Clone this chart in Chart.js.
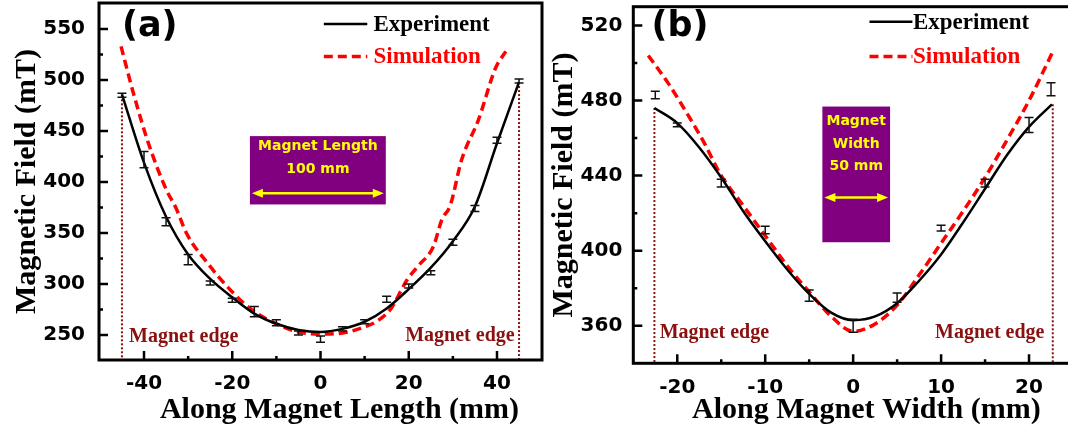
<!DOCTYPE html>
<html>
<head>
<meta charset="utf-8">
<script src="https://cdn.jsdelivr.net/npm/chart.js@4.4.0/dist/chart.umd.min.js"></script>
<style>
  html, body { margin: 0; padding: 0; background: #fff; overflow: hidden; }
  #wrap { position: relative; width: 1068px; height: 431px; overflow: hidden; }
  #chartA { position: absolute; left: 0; top: 0; }
  #chartB { position: absolute; left: 545px; top: 0; }
</style>
</head>
<body>
<div id="wrap">
  <canvas id="chartA" width="548" height="431"></canvas>
  <canvas id="chartB" width="545" height="431"></canvas>
</div>
<script>
/* Panel (a): along magnet length. */
const expXA = [-45, -40, -35, -30, -25, -20, -15, -10, -5, 0, 5, 10, 15, 20, 25, 30, 35, 40, 45]
const expYA = [485, 422, 361, 324, 301, 284, 273, 262, 252, 246, 256, 263, 285, 298, 311, 341, 374, 441, 499]
const expErrA = [2, 8, 4, 5, 2, 2, 5, 3, 2, 3, 2, 2, 3, 2, 2, 3, 3, 3, 2]
const fitXA = [-45, -40, -35, -30, -25, -20, -15, -10, -5, 0, 5, 10, 15, 20, 25, 30, 35, 40, 45]
const fitYA = [486, 419, 366, 329, 305, 287, 271, 261, 255, 253, 256, 263, 276, 295, 316, 342, 376, 438, 498]
const simXA = [-45.2, -42.4, -39, -35, -32.7, -30.4, -25.7, -19.5, -15, -10, -5, 0, 5, 10, 13, 16, 19.6, 22, 25.6, 27.5, 29.4, 32, 35.8, 39.7, 42]
const simYA = [533, 487, 438, 393, 374, 350, 321, 290, 273, 261, 253, 251, 252, 258, 264, 276, 304, 317, 337, 363, 377, 422, 461, 512, 528]
const edgeXA = [-45, 45]
const edgeTopA = [485, 498]
const xMajorA = [-40, -20, 0, 20, 40]
const xMinorA = [-30, -10, 10, 30]
const yMajorA = [250, 300, 350, 400, 450, 500, 550]
const yMinorA = [275, 325, 375, 425, 475, 525]

/* Panel (b): along magnet width. */
const expXB = [-22.5, -20, -15, -10, -5, 0, 5, 10, 15, 20, 22.5]
const expYB = [483, 467, 436, 411, 376, 360, 375, 412, 436, 467, 486]
const expErrB = [2, 1, 2, 2, 3, 3.5, 2.5, 1.5, 2, 4, 3.5]
const fitXB = [-22.6, -20, -17.5, -15, -12.5, -10, -7.5, -5, -2.5, 0, 2.5, 5, 7.5, 10, 12.5, 15, 17.5, 20, 22.6]
const fitYB = [476, 468, 455, 439, 421, 405, 390, 377, 367, 363, 365, 372, 384, 398, 415, 433, 451, 466, 478]
const simXB = [-23.3, -21, -19, -17, -15, -12.5, -10, -7.5, -5, -2.5, 0, 2.5, 5, 7.5, 10, 12.5, 15, 17.5, 20, 22.8]
const simYB = [504, 489, 474, 458, 440, 424, 408, 392, 378, 365, 357, 361, 371, 387, 404, 421, 439, 459, 480, 507]
const edgeXB = [-22.6, 22.7]
const edgeTopB = [476, 478]
const xMajorB = [-20, -10, 0, 10, 20]
const xMinorB = [-15, -5, 5, 15]
const yMajorB = [360, 400, 440, 480, 520]
const yMinorB = [380, 420, 460, 500]

const serif = "'Liberation Serif', 'Times New Roman', serif"
const sans = "'DejaVu Sans', sans-serif"
const edgeColor = "#8b1010"

const toPoints = (xs, ys) => xs.map((x, i) => ({ x, y: ys[i] }))

/* Draws frame, inward ticks, error bars, legend and notes. */
const panelPlugin = {
  id: "panel",
  afterDatasetsDraw(chart, args, o) {
    const ctx = chart.ctx
    const xs = chart.scales.x
    const ys = chart.scales.y
    const area = chart.chartArea
    const px = v => xs.getPixelForValue(v)
    const py = v => ys.getPixelForValue(v)
    ctx.save()

    /* Error bars. */
    ctx.strokeStyle = "#111"
    ctx.lineWidth = 1.5
    o.errX.forEach((x, i) => {
      const cx = px(x)
      const top = py(o.errY[i] + o.err[i])
      const bot = py(o.errY[i] - o.err[i])
      ctx.beginPath()
      ctx.moveTo(cx, top); ctx.lineTo(cx, bot)
      ctx.moveTo(cx - 4.5, top); ctx.lineTo(cx + 4.5, top)
      ctx.moveTo(cx - 4.5, bot); ctx.lineTo(cx + 4.5, bot)
      ctx.stroke()
    })

    /* Frame and inward ticks. */
    ctx.strokeStyle = "#000"
    ctx.lineWidth = 3
    ctx.strokeRect(area.left, area.top, area.right - area.left, area.bottom - area.top)
    ctx.lineWidth = 2.5
    ctx.beginPath()
    o.xMajor.forEach(v => { ctx.moveTo(px(v), area.bottom); ctx.lineTo(px(v), area.bottom - 9) })
    o.xMinor.forEach(v => { ctx.moveTo(px(v), area.bottom); ctx.lineTo(px(v), area.bottom - 4) })
    o.yMajor.forEach(v => { ctx.moveTo(area.left, py(v)); ctx.lineTo(area.left + 9, py(v)) })
    o.yMinor.forEach(v => { ctx.moveTo(area.left, py(v)); ctx.lineTo(area.left + 4, py(v)) })
    ctx.stroke()

    /* Panel letter. */
    ctx.fillStyle = "#000"
    ctx.font = "bold 35px " + sans
    ctx.textAlign = "center"
    ctx.textBaseline = "middle"
    ctx.fillText(o.letter.text, px(o.letter.x), py(o.letter.y))

    /* Legend from the line datasets. */
    ctx.font = "bold 23px " + serif
    ctx.textAlign = "left"
    o.legend.rows.forEach(row => {
      const ds = chart.data.datasets[row.dataset]
      const y = py(row.y)
      ctx.strokeStyle = ds.borderColor
      ctx.lineWidth = ds.borderWidth
      ctx.setLineDash(ds.borderDash || [])
      ctx.beginPath()
      ctx.moveTo(px(o.legend.x0), y)
      ctx.lineTo(px(o.legend.x1), y)
      ctx.stroke()
      ctx.setLineDash([])
      ctx.fillStyle = ds.borderColor
      ctx.fillText(ds.label, px(o.legend.text), y + 1)
    })

    /* Magnet box. */
    const b = o.box
    ctx.fillStyle = "#800080"
    ctx.fillRect(px(b.x0), py(b.y1), px(b.x1) - px(b.x0), py(b.y0) - py(b.y1))
    ctx.fillStyle = "#ffff00"
    ctx.font = "bold 14px " + sans
    ctx.textAlign = "center"
    const mid = (px(b.x0) + px(b.x1)) / 2
    b.lines.forEach(l => ctx.fillText(l.text, mid, py(l.y)))
    const ay = py(b.arrowY)
    const ax0 = px(b.x0) + 2
    const ax1 = px(b.x1) - 2
    ctx.strokeStyle = "#ffff00"
    ctx.lineWidth = 2.5
    ctx.beginPath()
    ctx.moveTo(ax0 + 6, ay); ctx.lineTo(ax1 - 6, ay)
    ctx.stroke()
    ctx.beginPath()
    ctx.moveTo(ax0, ay); ctx.lineTo(ax0 + 11, ay - 4.5); ctx.lineTo(ax0 + 11, ay + 4.5); ctx.closePath()
    ctx.moveTo(ax1, ay); ctx.lineTo(ax1 - 11, ay - 4.5); ctx.lineTo(ax1 - 11, ay + 4.5); ctx.closePath()
    ctx.fill()

    /* Magnet edge notes. */
    ctx.fillStyle = edgeColor
    ctx.font = "bold 20px " + serif
    o.edges.forEach(e => {
      ctx.textAlign = e.align
      ctx.fillText("Magnet edge", px(e.x), py(e.y))
    })

    /* X axis title. */
    ctx.fillStyle = "#000"
    ctx.font = "bold 30px " + serif
    ctx.textAlign = "center"
    ctx.fillText(o.xTitle.text, px(o.xTitle.x), area.bottom + o.xTitle.dy)
    ctx.restore()
  }
}

const makeChart = (id, p) => {
  const datasets = [{
    label: "Experiment",
    data: toPoints(p.fitX, p.fitY),
    borderColor: "#000",
    borderWidth: 2.5,
    cubicInterpolationMode: "monotone"
  }, {
    label: "Simulation",
    data: toPoints(p.simX, p.simY),
    borderColor: "#ff0000",
    borderWidth: 3.5,
    borderDash: [9, 5],
    cubicInterpolationMode: "monotone"
  }]
  p.edgeX.forEach((x, i) => {
    datasets.push({
      label: "edge",
      data: [{ x, y: p.edgeTop[i] }, { x, y: p.yMin }],
      borderColor: edgeColor,
      borderWidth: 2,
      borderDash: [2, 2]
    })
  })
  datasets.forEach(ds => { ds.showLine = true; ds.pointRadius = 0; ds.fill = false })

  return new Chart(document.getElementById(id), {
    type: "scatter",
    data: { datasets },
    plugins: [panelPlugin],
    options: {
      responsive: false,
      animation: false,
      layout: { padding: p.padding },
      plugins: {
        legend: { display: false },
        tooltip: { enabled: false },
        panel: p.notes
      },
      scales: {
        x: {
          type: "linear",
          min: p.xMin,
          max: p.xMax,
          grid: { display: false, drawTicks: false },
          border: { display: false },
          afterBuildTicks: s => { s.ticks = p.xMajor.map(v => ({ value: v })) },
          afterFit: s => { s.height = p.xHeight; s.paddingLeft = 0; s.paddingRight = 0 },
          ticks: { color: "#000", padding: 12, font: { family: sans, size: 20, weight: "bold" } }
        },
        y: {
          min: p.yMin,
          max: p.yMax,
          grid: { display: false, drawTicks: false },
          border: { display: false },
          afterBuildTicks: s => { s.ticks = p.yMajor.map(v => ({ value: v })) },
          afterFit: s => { s.width = p.yWidth; s.paddingTop = 0; s.paddingBottom = 0 },
          ticks: { color: "#000", padding: p.yPad, font: { family: sans, size: 20, weight: "bold" } },
          title: {
            display: true,
            text: "Magnetic Field (mT)",
            color: "#000",
            padding: { top: p.yTitlePad, bottom: 0 },
            font: { family: serif, size: 30, weight: "bold", lineHeight: 1.2 }
          }
        }
      }
    }
  })
}

makeChart("chartA", {
  fitX: fitXA, fitY: fitYA, simX: simXA, simY: simYA,
  edgeX: edgeXA, edgeTop: edgeTopA,
  xMin: -50.2, xMax: 50.2, yMin: 225.5, yMax: 575.5,
  xMajor: xMajorA, yMajor: yMajorA,
  padding: { left: 0, top: 3, right: 6, bottom: 0 },
  xHeight: 71, yWidth: 99, yPad: 14, yTitlePad: 9,
  notes: {
    errX: expXA, errY: expYA, err: expErrA,
    xMajor: xMajorA, xMinor: xMinorA, yMajor: yMajorA, yMinor: yMinorA,
    letter: { text: "(a)", x: -38.7, y: 552 },
    legend: { x0: 0.75, x1: 10.6, text: 12, rows: [{ dataset: 0, y: 555 }, { dataset: 1, y: 523 }] },
    box: {
      x0: -16, x1: 14.8, y0: 378, y1: 445, arrowY: 389,
      lines: [{ text: "Magnet Length", y: 435 }, { text: "100 mm", y: 412 }]
    },
    edges: [{ x: -43.4, y: 248, align: "left" }, { x: 44, y: 249.5, align: "right" }],
    xTitle: { text: "Along Magnet Length (mm)", x: 4.3, dy: 50 }
  }
})

makeChart("chartB", {
  fitX: fitXB, fitY: fitYB, simX: simXB, simY: simYB,
  edgeX: edgeXB, edgeTop: edgeTopB,
  xMin: -25, xMax: 25, yMin: 340, yMax: 530,
  xMajor: xMajorB, yMajor: yMajorB,
  padding: { left: 0, top: 6.7, right: 17, bottom: 0 },
  xHeight: 67.7, yWidth: 88.3, yPad: 11, yTitlePad: 1,
  notes: {
    errX: expXB, errY: expYB, err: expErrB,
    xMajor: xMajorB, xMinor: xMinorB, yMajor: yMajorB, yMinor: yMinorB,
    letter: { text: "(b)", x: -19.7, y: 519 },
    legend: { x0: 1.86, x1: 6.74, text: 6.8, rows: [{ dataset: 0, y: 522 }, { dataset: 1, y: 503.5 }] },
    box: {
      x0: -3.5, x1: 4.2, y0: 404.5, y1: 476.8, arrowY: 428.3,
      lines: [{ text: "Magnet", y: 468.8 }, { text: "Width", y: 456.7 }, { text: "50 mm", y: 444.8 }]
    },
    edges: [{ x: -22, y: 356, align: "left" }, { x: 21.75, y: 356, align: "right" }],
    xTitle: { text: "Along Magnet Width (mm)", x: 1.5, dy: 47 }
  }
})
</script>
</body>
</html>
